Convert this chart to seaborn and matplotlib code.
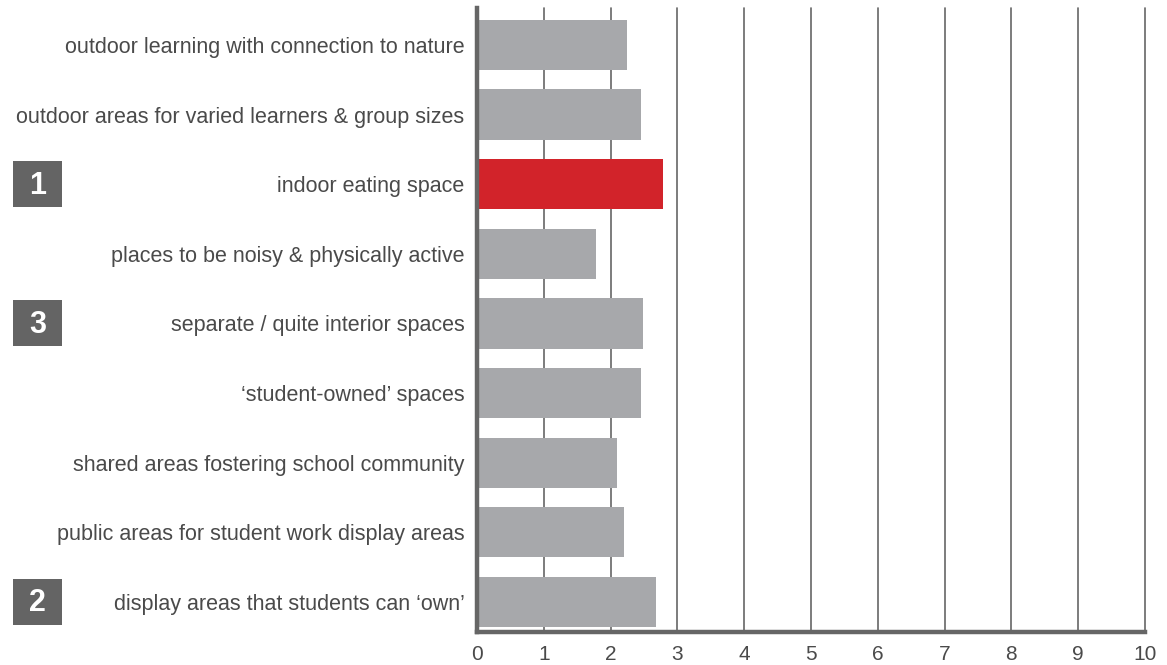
import matplotlib
matplotlib.use("Agg")
import matplotlib.pyplot as plt
import matplotlib.transforms as mtransforms
from matplotlib.patches import Rectangle
import seaborn as sns
import pandas as pd

categories = [
    "outdoor learning with connection to nature",
    "outdoor areas for varied learners & group sizes",
    "indoor eating space",
    "places to be noisy & physically active",
    "separate / quite interior spaces",
    "\u2018student-owned\u2019 spaces",
    "shared areas fostering school community",
    "public areas for student work display areas",
    "display areas that students can \u2018own\u2019",
]
scores = [2.24, 2.46, 2.78, 1.78, 2.48, 2.46, 2.10, 2.20, 2.68]
x_ticks = [0, 1, 2, 3, 4, 5, 6, 7, 8, 9, 10]
rank_labels = {"indoor eating space": "1",
               "separate / quite interior spaces": "3",
               "display areas that students can \u2018own\u2019": "2"}
highlight = "indoor eating space"

GRAY = "#a7a8ab"
RED = "#d2232a"
DARK = "#666666"
TEXT = "#4a4a4a"

df = pd.DataFrame({"item": categories, "score": scores})
palette = {c: (RED if c == highlight else GRAY) for c in categories}

sns.set_style("white")
plt.rcParams["font.family"] = ["Liberation Sans", "DejaVu Sans"]

fig = plt.figure(figsize=(11.67, 6.65), dpi=100)
ax = fig.add_axes([477 / 1167, 1 - 632 / 665, (1145 - 477) / 1167, (632 - 8) / 665])

sns.barplot(data=df, y="item", x="score", hue="item", palette=palette,
            orient="h", width=0.72, legend=False, ax=ax, saturation=1)
for p in ax.patches:
    p.set_edgecolor("none")

ax.set_xlim(0, 10)
ax.set_ylim(8.43, -0.53)
ax.set_xticks(x_ticks)
ax.set_xticklabels([str(t) for t in x_ticks])
ax.set_axisbelow(True)
ax.grid(axis="x", color=DARK, linewidth=1.2)
ax.grid(axis="y", visible=False)
for gl in ax.get_xgridlines():
    gl.set_clip_on(False)
ax.set_xlabel("")
ax.set_ylabel("")

for side in ("top", "right"):
    ax.spines[side].set_visible(False)
for side in ("left", "bottom"):
    ax.spines[side].set_color(DARK)
    ax.spines[side].set_linewidth(3.2)
    ax.spines[side].set_capstyle("projecting")

ax.tick_params(axis="y", length=0, labelsize=15.5, labelcolor=TEXT, pad=9)
ax.tick_params(axis="x", length=0, labelsize=15, labelcolor=TEXT, pad=9)

# numbered rank badges on the far left, aligned with their rows
trans = mtransforms.blended_transform_factory(fig.transFigure, ax.transData)
box_x = 13 / 1167
box_w = 49 / 1167
box_h = 46 / 69.6
for item, num in rank_labels.items():
    yi = categories.index(item)
    rect = Rectangle((box_x, yi - box_h / 2), box_w, box_h, transform=trans,
                     facecolor="#646464", edgecolor="none", clip_on=False)
    fig.add_artist(rect)
    fig.text(box_x + box_w / 2, yi + 0.02, num, transform=trans, color="white",
             fontsize=22, fontweight="bold", ha="center", va="center")

fig.savefig("out.png", dpi=100, facecolor="white")
